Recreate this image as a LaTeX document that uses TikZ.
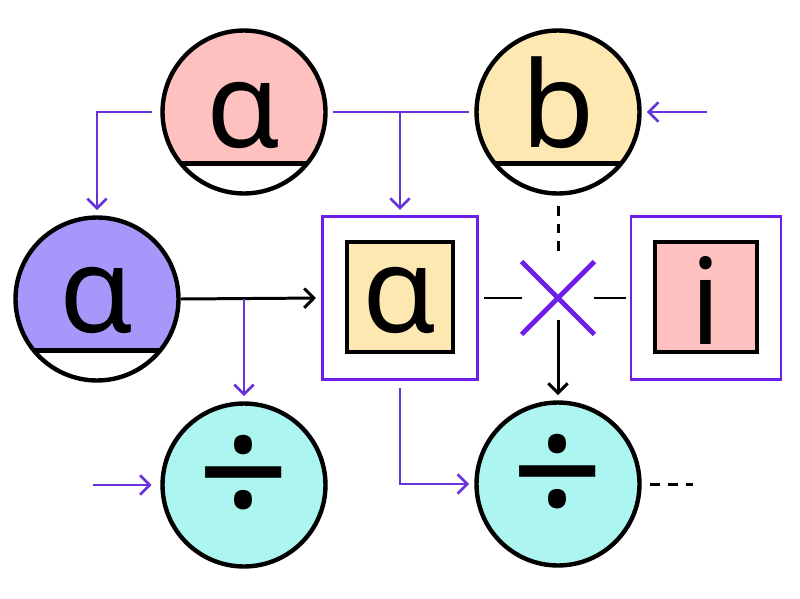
\documentclass[tikz,border=0pt]{standalone}
\usepackage{fontspec}
\setmainfont{Noto Sans}
\usepackage{tikz}
\usetikzlibrary{arrows.meta, shapes.misc}
\definecolor{linepurple}{RGB}{104,52,218}
\definecolor{xpurple}{RGB}{110,30,230}
\definecolor{pinkfill}{RGB}{255,192,192}
\definecolor{yellowfill}{RGB}{253,232,178}
\definecolor{lavfill}{RGB}{168,150,250}
\definecolor{cyanfill}{RGB}{173,245,240}
\tikzstyle{parrow} = [draw=linepurple, line width=1.5pt, -{Straight Barb[length=5.5pt,width=11pt]}]
\tikzstyle{pline} = [draw=linepurple, line width=1.5pt]
\tikzstyle{barrow} = [line width=1.7pt, -{Straight Barb[length=5.5pt,width=11pt]}]
\tikzstyle{bline} = [line width=1.7pt]
\tikzstyle{dline} = [line width=1.7pt, dash pattern=on 5.5pt off 4.5pt]
\tikzstyle{glyph} = [font=\fontsize{68}{70}\selectfont, inner sep=0pt]
\tikzstyle{divglyph} = [font=\fontsize{92}{94}\selectfont, inner sep=0pt]
\tikzstyle{chordcirc} = [circle, draw, line width=2.5pt, minimum size=3.26cm, inner sep=0pt, fill=white,
  path picture={\fill[#1] (path picture bounding box.north west) rectangle ([yshift=0.6cm]path picture bounding box.south east);
    \draw[line width=2.5pt] ([yshift=0.6cm]path picture bounding box.south west) -- ([yshift=0.6cm]path picture bounding box.south east);}]
\tikzstyle{plaincirc} = [circle, draw, line width=2.5pt, minimum size=3.26cm, inner sep=0pt, fill=cyanfill]
\tikzstyle{outerbox} = [draw=xpurple, line width=1.5pt, minimum height=3.26cm, inner sep=0pt]
\tikzstyle{innerbox} = [draw, line width=1.9pt, minimum height=2.2cm, inner sep=0pt]
\begin{document}
\begin{tikzpicture}[x=0.02cm, y=-0.02cm]
    \useasboundingbox (0,0) rectangle (800,598);
    % Nodes
    \node[chordcirc=pinkfill] (pa) at (244,112) {};
    \node[chordcirc=yellowfill] (pb) at (558,112) {};
    \node[chordcirc=lavfill] (pc) at (97,299) {};
    \node[plaincirc] (pd) at (244,485) {};
    \node[plaincirc] (pe) at (558,484) {};
    \node[outerbox, minimum width=3.1cm] (box1) at (400,298) {};
    \node[innerbox, fill=yellowfill, minimum width=2.12cm] (in1) at (400,297) {};
    \node[outerbox, minimum width=3.0cm] (box2) at (706,298) {};
    \node[innerbox, fill=pinkfill, minimum width=2.04cm] (in2) at (706,297) {};
    \node[cross out, draw=xpurple, line width=2.8pt, minimum size=1.36cm, inner sep=0pt] (x) at (558,298) {};
    \coordinate (bin) at (707,112);
    \coordinate (din) at (93,485);
    \coordinate (eout) at (693,484);

    % Texts
    \node[glyph, anchor=base] (ta) at ([yshift=-0.71cm]pa.center) {α};
    \node[glyph, anchor=base] (tb) at ([yshift=-0.71cm]pb.center) {b};
    \node[glyph, anchor=base] (tc) at ([yshift=-0.68cm]pc.center) {α};
    \node[glyph, anchor=base] (t1) at ([yshift=-0.71cm]in1.center) {α};
    \node[glyph] (ti) at ([yshift=-0.06cm]in2.center) {i};
    \node[divglyph] (td) at ([yshift=0.06cm]pd.center) {÷};
    \node[divglyph] (te) at ([yshift=0.06cm]pe.center) {÷};

    % Edges
    \draw[parrow, shorten <=5pt, shorten >=3pt] (pa.west) -| (pc.north);
    \draw[pline, shorten <=3pt, shorten >=3pt] (pa.east) -- (pb.west);
    \draw[parrow, shorten >=3pt] (pa.east -| box1.north) -- (box1.north);
    \draw[parrow, shorten >=3pt] (bin) -- (pb.east);
    \draw[dline, shorten <=6pt, shorten >=4pt] (pb.south) -- (x.north);
    \draw[barrow, shorten >=3pt] (pc.east) -- (box1.west);
    \draw[parrow, shorten >=3pt] (pc.east -| pd.north) -- (pd.north);
    \draw[bline, shorten <=3pt] (box1.east) -- (x.west);
    \draw[bline, shorten >=2pt] (x.east) -- (box2.west);
    \draw[barrow, shorten >=3pt] ([yshift=-0.44cm]x.center) -- (pe.north);
    \draw[parrow, shorten <=4pt, shorten >=3pt] (box1.south) |- (pe.west);
    \draw[parrow, shorten >=5pt] (din) -- (pd.west);
    \draw[dline, shorten <=5pt] (pe.east) -- (eout);
\end{tikzpicture}
\end{document}
